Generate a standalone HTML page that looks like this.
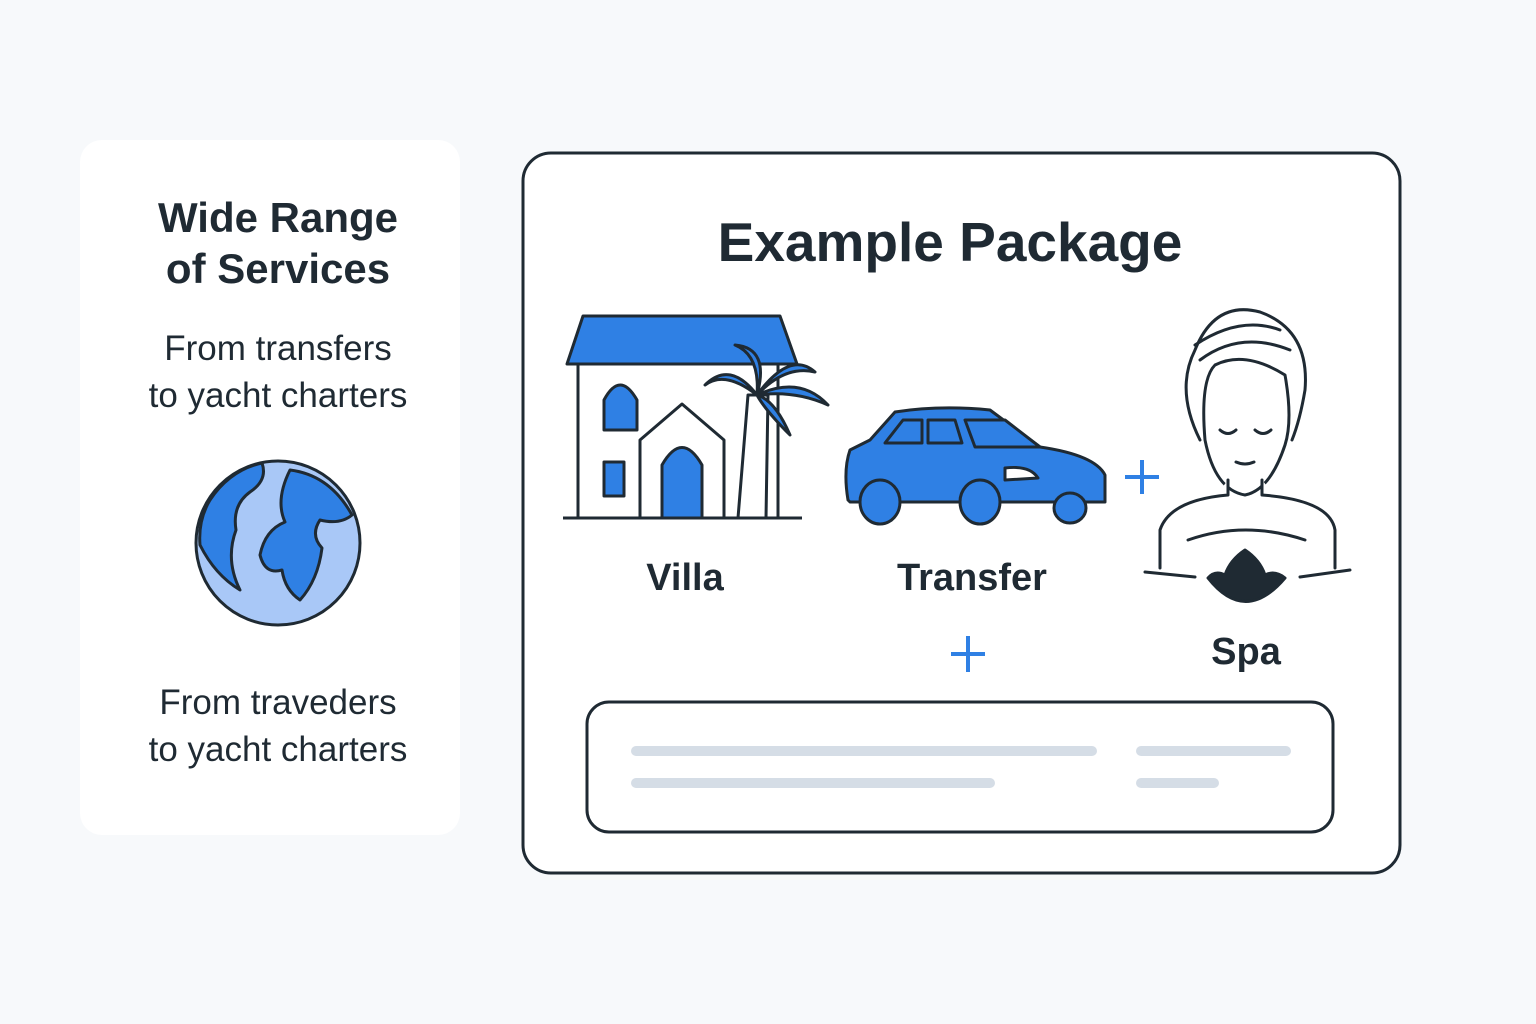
<!DOCTYPE html>
<html><head><meta charset="utf-8"><style>
html,body{margin:0;padding:0}
body{width:1536px;height:1024px;background:#f7f9fb;position:relative;overflow:hidden;font-family:"Liberation Sans","DejaVu Sans",sans-serif;color:#1f2a33}
.t{position:absolute;text-align:center;white-space:nowrap;transform:translateX(-50%)}
</style></head><body>
<div style="position:absolute;left:80px;top:140px;width:380px;height:695px;background:#fff;border-radius:22px"></div>
<div class="t" style="left:278px;top:192px;font-size:42px;font-weight:bold;line-height:51px">Wide Range<br>of Services</div>
<div class="t" style="left:278px;top:325px;font-size:35px;line-height:47px">From transfers<br>to yacht charters</div>
<div class="t" style="left:278px;top:679px;font-size:35px;line-height:47px">From traveders<br>to yacht charters</div>
<svg style="position:absolute;left:0;top:0" width="1536" height="1024">
<g stroke="#1f2a33" stroke-width="3" stroke-linejoin="round" stroke-linecap="round">
<circle cx="278" cy="543" r="82" fill="#a9c8f7"/>
<path d="M210 500 Q230 470 262 463 Q268 480 250 492 Q232 505 236 530 Q225 560 240 590 Q215 575 200 545 Q198 520 210 500Z" fill="#2f80e4"/>
<path d="M290 470 Q330 475 352 515 Q340 525 320 520 Q310 535 322 548 Q318 580 300 600 Q285 590 282 570 Q265 575 260 555 Q265 530 285 522 Q275 500 290 470Z" fill="#2f80e4"/>
<rect x="523" y="153" width="877" height="720" rx="28" fill="#fff"/>
<rect x="587" y="702" width="746" height="130" rx="22" fill="#fff"/>
</g>
<g stroke="#d5dde6" stroke-width="10" stroke-linecap="round">
<line x1="636" y1="751" x2="1092" y2="751"/><line x1="1141" y1="751" x2="1286" y2="751"/>
<line x1="636" y1="783" x2="990" y2="783"/><line x1="1141" y1="783" x2="1214" y2="783"/>
</g>
<g stroke="#2f80e4" stroke-width="4">
<line x1="1142" y1="460" x2="1142" y2="494"/><line x1="1125" y1="477" x2="1159" y2="477"/>
<line x1="968" y1="636" x2="968" y2="672"/><line x1="951" y1="654" x2="985" y2="654"/>
</g>
<g stroke="#1f2a33" stroke-width="3" stroke-linejoin="round">
<rect x="578" y="363" width="200" height="155" fill="#fff"/>
<path d="M567 364 L583 316 L780 316 L797 364Z" fill="#2f80e4"/>
<path d="M604 430 V400 Q620 370 637 400 V430Z" fill="#2f80e4"/>
<rect x="604" y="462" width="20" height="34" fill="#2f80e4"/>
<path d="M640 518 V440 L682 404 L724 440 V518" fill="#fff"/>
<path d="M662 518 V465 Q682 430 702 465 V518Z" fill="#2f80e4"/>
<path d="M738 518 L748 395 L768 395 L766 518Z" fill="#fff"/>
<path d="M757 395 Q730 360 705 385 Q725 370 757 395 Q760 355 735 345 Q770 348 757 395 Q790 350 815 372 Q785 365 757 395 Q800 375 828 405 Q795 390 757 395 Q775 400 790 435 Q765 410 757 395Z" fill="#2f80e4"/>
<line x1="563" y1="518" x2="802" y2="518"/>
</g>
<g stroke="#1f2a33" stroke-width="3" stroke-linejoin="round">
<path d="M848 500 Q843 470 850 450 L870 440 L895 412 Q940 405 990 410 L1040 447 Q1095 455 1105 475 L1105 502 L850 502Z" fill="#2f80e4"/>
<path d="M885 443 L903 420 L922 420 L922 443Z M928 443 L928 420 L955 420 L962 443Z M965 420 L1005 420 L1040 447 L975 447Z" fill="#2f80e4"/>
<path d="M1005 468 Q1030 465 1038 478 L1005 480Z" fill="#fff"/>
<ellipse cx="880" cy="502" rx="20" ry="22" fill="#2f80e4"/>
<ellipse cx="980" cy="502" rx="20" ry="22" fill="#2f80e4"/>
<ellipse cx="1070" cy="508" rx="16" ry="15" fill="#2f80e4"/>
</g>
<g stroke="#1f2a33" stroke-width="3" fill="#fff" stroke-linecap="round" stroke-linejoin="round">
<path d="M1200 440 Q1175 390 1195 350 Q1215 300 1260 312 Q1310 330 1305 390 Q1300 420 1292 440"/>
<path d="M1205 440 Q1200 380 1215 365 Q1245 350 1285 375 Q1293 420 1285 445 Q1270 490 1245 495 Q1215 490 1205 440Z"/>
<path d="M1200 360 Q1240 330 1290 350 M1195 345 Q1240 315 1280 330"/>
<path d="M1220 430 Q1228 437 1236 430 M1255 430 Q1263 437 1271 430 M1236 462 Q1245 466 1254 462"/>
<path d="M1228 480 V495 Q1170 500 1160 530 V568 M1262 480 V495 Q1330 500 1335 530 V568"/>
<path d="M1188 540 Q1245 520 1305 540"/>
<line x1="1145" y1="572" x2="1195" y2="577"/><line x1="1300" y1="577" x2="1350" y2="570"/>
<path d="M1208 578 Q1245 625 1285 578 Q1275 570 1265 575 Q1260 560 1245 550 Q1230 560 1225 575 Q1215 570 1208 578Z" fill="#1f2a33"/>
</g>
</svg>
<div class="t" style="left:950px;top:210px;font-size:55px;font-weight:bold">Example Package</div>
<div class="t" style="left:685px;top:557px;font-size:38px;font-weight:bold">Villa</div>
<div class="t" style="left:972px;top:557px;font-size:38px;font-weight:bold">Transfer</div>
<div class="t" style="left:1246px;top:631px;font-size:38px;font-weight:bold">Spa</div>
</body></html>
